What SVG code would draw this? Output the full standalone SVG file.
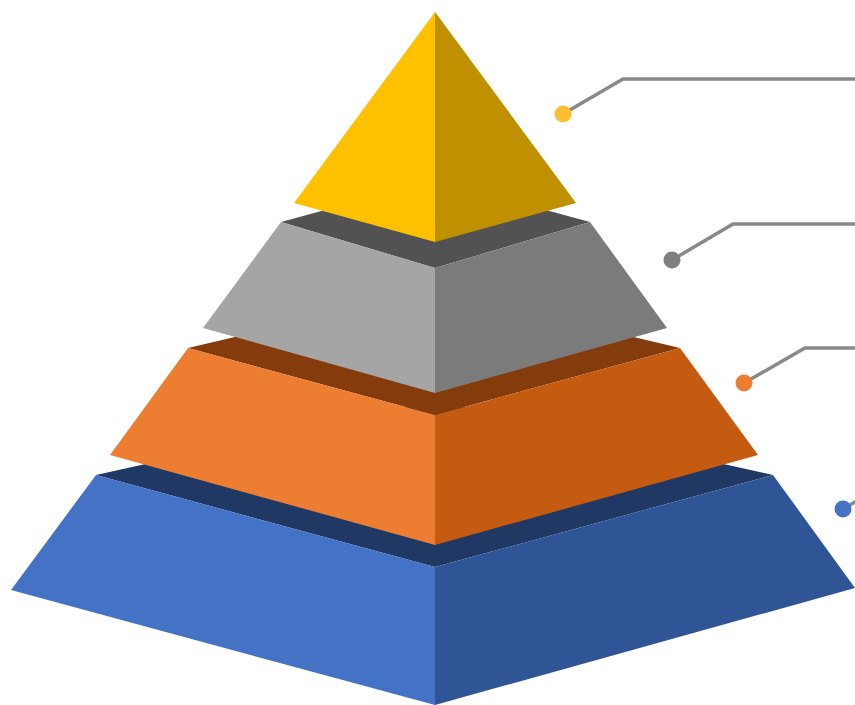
<svg xmlns="http://www.w3.org/2000/svg" width="855" height="705" viewBox="0 0 855 705">
<style>
.ln{fill:none;stroke:#898989;stroke-width:3.5;stroke-linejoin:miter}
</style>
<rect width="855" height="705" fill="#FFFFFF"/>
<g id="layer-blue">
<polygon points="96,475 435,400 773,475 435,567" fill="#203864"/>
<polygon points="96,475 435,567 435,705 11,590" fill="#4472C4"/>
<polygon points="435,567 773,475 855,588 435,705" fill="#2F5597"/>
</g>
<g id="layer-orange">
<polygon points="188,348 435,290 680,348 435,415" fill="#843C0C"/>
<polygon points="188,348 435,415 435,545 110,455" fill="#ED7D31"/>
<polygon points="435,415 680,348 758,455 435,545" fill="#C55A11"/>
</g>
<g id="layer-gray">
<polygon points="281,222 435,180 590,222 435,268" fill="#525252"/>
<polygon points="281,222 435,268 435,393 203,328" fill="#A5A5A5"/>
<polygon points="435,268 590,222 667,328 435,393" fill="#7B7B7B"/>
</g>
<g id="layer-yellow">
<polygon points="435,12 435,242 294,203" fill="#FFC000"/>
<polygon points="435,12 576,203 435,242" fill="#BF9000"/>
</g>
<g id="connectors">
<polyline class="ln" points="563,114 623,79 855,79"/>
<polyline class="ln" points="672,260 733,224 855,224"/>
<polyline class="ln" points="744,383 805,348 855,348"/>
<polyline class="ln" points="843,509 860,499"/>
<circle cx="563" cy="114" r="8.5" fill="#FFBF2F"/>
<circle cx="672" cy="260" r="8.5" fill="#7F7F7F"/>
<circle cx="744" cy="383" r="8.5" fill="#ED7D31"/>
<circle cx="843" cy="509" r="8.5" fill="#4472C4"/>
</g>
</svg>
